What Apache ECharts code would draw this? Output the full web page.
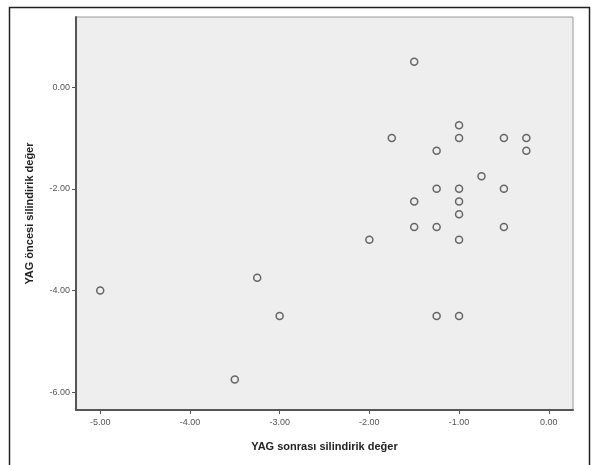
<!DOCTYPE html>
<html>
<head>
<meta charset="utf-8">
<script src="https://cdn.jsdelivr.net/npm/echarts@6/dist/echarts.min.js"></script>
<style>
  html, body { margin: 0; padding: 0; background: #fff; }
  #chart { width: 593px; height: 465px; }
</style>
</head>
<body>
<div id="chart"></div>
<script>
// YAG sonrası (x) / öncesi (y) silindirik değer
var xVals = [-1.5, -1.0, -1.75, -1.0, -0.5, -0.25, -1.25, -0.25, -0.75, -1.25, -1.0, -0.5, -1.5, -1.0, -1.0, -1.5, -1.25, -0.5, -2.0, -1.0, -1.25, -1.0, -5.0, -3.25, -3.0, -3.5];
var yVals = [0.5, -0.75, -1.0, -1.0, -1.0, -1.0, -1.25, -1.25, -1.75, -2.0, -2.0, -2.0, -2.25, -2.25, -2.5, -2.75, -2.75, -2.75, -3.0, -3.0, -4.5, -4.5, -4.0, -3.75, -4.5, -5.75];
var xTicks = [-5, -4, -3, -2, -1, 0];
var yTicks = [0, -2, -4, -6];

var points = [];
xVals.forEach(function (x, i) {
  points.push([x, yVals[i]]);
});

var chart = echarts.init(document.getElementById("chart"));
chart.setOption({
  backgroundColor: "#fff",
  animation: false,
  textStyle: { fontFamily: "Liberation Sans, Arial, sans-serif" },
  graphic: [
    {
      type: "rect",
      shape: { x: 9.5, y: 7.5, width: 580, height: 470 },
      style: { fill: "none", stroke: "#222", lineWidth: 1.5 },
    },
  ],
  grid: {
    left: 76,
    right: 20,
    top: 17,
    bottom: 55,
    show: true,
    backgroundColor: "#eeeeee",
    borderColor: "#999",
    borderWidth: 1,
  },
  xAxis: {
    type: "value",
    min: -5.27,
    max: 0.27,
    name: "YAG sonrası silindirik değer",
    nameLocation: "middle",
    nameGap: 31,
    nameTextStyle: { fontSize: 11, fontWeight: "bold", color: "#222" },
    splitLine: { show: false },
    axisLine: { onZero: false, lineStyle: { color: "#555", width: 2 } },
    axisTick: { customValues: xTicks, length: 4, lineStyle: { color: "#555" } },
    axisLabel: {
      customValues: xTicks,
      fontSize: 9,
      color: "#555",
      margin: 8,
      formatter: function (v) { return v.toFixed(2); },
    },
  },
  yAxis: {
    type: "value",
    min: -6.35,
    max: 1.38,
    name: "YAG öncesi silindirik değer",
    nameLocation: "middle",
    nameGap: 41,
    nameTextStyle: { fontSize: 11, fontWeight: "bold", color: "#222" },
    splitLine: { show: false },
    axisLine: { show: true, onZero: false, lineStyle: { color: "#555", width: 2 } },
    axisTick: { show: true, customValues: yTicks, length: 4, lineStyle: { color: "#555" } },
    axisLabel: {
      customValues: yTicks,
      fontSize: 9,
      color: "#555",
      margin: 6,
      formatter: function (v) { return v.toFixed(2); },
    },
  },
  series: [
    {
      type: "scatter",
      data: points,
      symbol: "circle",
      symbolSize: 7,
      itemStyle: { color: "#eeeeee", borderColor: "#444", borderWidth: 1.5 },
    },
  ],
});
</script>
</body>
</html>
